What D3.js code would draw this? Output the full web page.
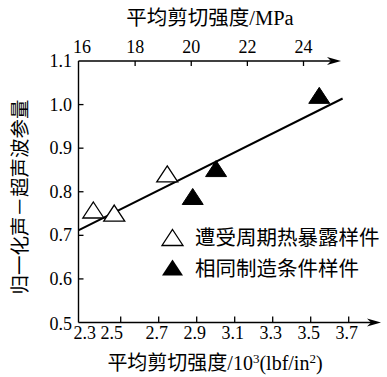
<!DOCTYPE html>
<html><head><meta charset="utf-8">
<script src="https://cdn.jsdelivr.net/npm/d3@7"></script>
<style>html,body{margin:0;padding:0;background:#fff;}svg{display:block;}</style>
</head><body>
<svg id="c" width="387" height="377"></svg>
<script>
// Data
const bottomTicks = [2.3, 2.5, 2.7, 2.9, 3.1, 3.3, 3.5, 3.7];
const topTicks = [16, 18, 20, 22, 24];
const yTicks = [0.5, 0.6, 0.7, 0.8, 0.9, 1.0, 1.1];
const exposedX = [2.356, 2.466, 2.745];
const exposedY = [0.757, 0.750, 0.840];
const controlX = [2.879, 3.002, 3.545];
const controlY = [0.788, 0.852, 1.020];
const fitX = [2.277, 3.668];
const fitY = [0.7115, 1.014];
const legendLabels = ["遭受周期热暴露样件", "相同制造条件样件"];

const svg = d3.select("#c");
const serif = "'Liberation Serif','Noto Sans CJK SC',serif";
const L = 78.5, R = 381, T = 61, B = 322.5;

const x = d3.scaleLinear().domain([2.3, 3.7]).range([82.7, 348.7]);
const xTop = d3.scaleLinear().domain([16, 24]).range([79, 303.5]);
const y = d3.scaleLinear().domain([0.5, 1.1]).range([B, T]);

const ax = svg.append("g").attr("stroke", "#000").attr("fill", "none").attr("stroke-width", 1.4);
ax.append("line").attr("x1", L).attr("x2", L).attr("y1", T).attr("y2", B);
ax.append("line").attr("x1", L).attr("x2", R - 6).attr("y1", B).attr("y2", B);
ax.append("line").attr("x1", L).attr("x2", 336).attr("y1", T).attr("y2", T);

function arrow(xe, ye) {
  svg.append("path")
    .attr("d", `M${xe},${ye} L${xe-14},${ye-4} L${xe-10},${ye} L${xe-14},${ye+4} Z`)
    .attr("fill", "#000");
}
arrow(R, B);
arrow(341, T);

// bottom ticks
svg.append("g").selectAll("line").data(bottomTicks.filter(d => d > 2.3)).join("line")
  .attr("x1", d => x(d)).attr("x2", d => x(d)).attr("y1", B).attr("y2", B - 6)
  .attr("stroke", "#000").attr("stroke-width", 1.3);
svg.append("g").selectAll("text").data(bottomTicks).join("text")
  .attr("x", d => x(d) - 2 + (d === 2.3 ? 4 : 0) + (d === 2.5 ? -7 : 0)).attr("y", 339)
  .attr("text-anchor", "middle").attr("font-family", serif).attr("font-size", 18)
  .text(d => d.toFixed(1));

// top ticks
svg.append("g").selectAll("line").data(topTicks.filter(d => d > 16)).join("line")
  .attr("x1", d => xTop(d)).attr("x2", d => xTop(d)).attr("y1", T).attr("y2", T + 5)
  .attr("stroke", "#000").attr("stroke-width", 1.3);
svg.append("g").selectAll("text").data(topTicks).join("text")
  .attr("x", d => xTop(d) + (d === 16 ? 3 : 0)).attr("y", 53)
  .attr("text-anchor", "middle").attr("font-family", serif).attr("font-size", 18)
  .text(d => d);

// y ticks
svg.append("g").selectAll("line").data(yTicks.filter(d => d > 0.5 && d < 1.1)).join("line")
  .attr("x1", L).attr("x2", L + 5).attr("y1", d => y(d)).attr("y2", d => y(d))
  .attr("stroke", "#000").attr("stroke-width", 1.3);
svg.append("g").selectAll("text").data(yTicks).join("text")
  .attr("x", 72).attr("y", d => y(d) + 6 + (d === 0.5 ? 1 : 0))
  .attr("text-anchor", "end").attr("font-family", serif).attr("font-size", 18)
  .text(d => d.toFixed(1));

// titles
svg.append("text").attr("x", 210).attr("y", 25).attr("text-anchor", "middle")
  .attr("font-family", serif).attr("font-size", 20.5).text("平均剪切强度/MPa");
const bt = svg.append("text").attr("x", 215).attr("y", 370).attr("text-anchor", "middle")
  .attr("font-family", serif).attr("font-size", 20);
bt.append("tspan").text("平均剪切强度/10");
bt.append("tspan").attr("font-size", 13).attr("dy", -7).text("3");
bt.append("tspan").attr("dy", 7).text("(lbf/in");
bt.append("tspan").attr("font-size", 13).attr("dy", -7).text("2");
bt.append("tspan").attr("dy", 7).text(")");
svg.append("text").attr("transform", "translate(27,197) rotate(-90)")
  .attr("text-anchor", "middle").attr("font-family", serif).attr("font-size", 19.5)
  .text("归一化声－超声波参量");

// fit line
svg.append("line")
  .attr("x1", x(fitX[0])).attr("y1", y(fitY[0])).attr("x2", x(fitX[1])).attr("y2", y(fitY[1]))
  .attr("stroke", "#000").attr("stroke-width", 2);

function tri(cx, cy) {
  return `M${cx},${cy-8.5} L${cx+10.5},${cy+7.5} L${cx-10.5},${cy+7.5} Z`;
}
svg.append("g").selectAll("path").data(exposedX.map((d, i) => [d, exposedY[i]])).join("path")
  .attr("d", d => tri(x(d[0]), y(d[1]))).attr("fill", "#fff").attr("stroke", "#000").attr("stroke-width", 1.3);
svg.append("g").selectAll("path").data(controlX.map((d, i) => [d, controlY[i]])).join("path")
  .attr("d", d => tri(x(d[0]), y(d[1]))).attr("fill", "#000").attr("stroke", "#000").attr("stroke-width", 1);

// legend
svg.append("path").attr("d", tri(172.5, 238)).attr("fill", "#fff").attr("stroke", "#000").attr("stroke-width", 1.3);
svg.append("path").attr("d", tri(172.5, 268)).attr("fill", "#000");
svg.append("text").attr("x", 195).attr("y", 245).attr("font-family", serif).attr("font-size", 20.5).text(legendLabels[0]);
svg.append("text").attr("x", 195).attr("y", 276).attr("font-family", serif).attr("font-size", 20.5).text(legendLabels[1]);
</script>
</body></html>
